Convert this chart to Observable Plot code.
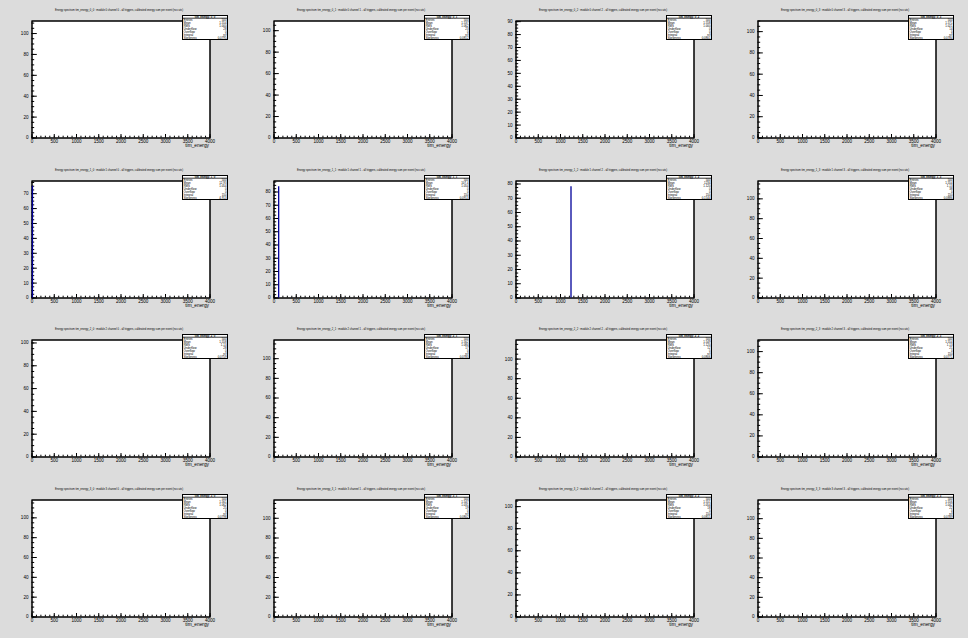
<!DOCTYPE html>
<html><head><meta charset="utf-8">
<script src="https://cdn.jsdelivr.net/npm/d3@7"></script>
<script src="https://cdn.jsdelivr.net/npm/@observablehq/plot@0.6"></script>
<style>
html,body{margin:0;padding:0;background:#dcdcdc;}
#canvas{position:relative;width:968px;height:638px;background:#dcdcdc;overflow:hidden;font-family:"Liberation Sans",Arial,sans-serif;}
.pad{position:absolute;width:242px;}
</style></head><body><div id="canvas"></div>
<script>
// ---- data ----
const xTitle = "tim_energy";
const xMajorTicks = [0, 500, 1000, 1500, 2000, 2500, 3000, 3500, 4000];
const xMinorStep = 100;
const panelNames = ["tim_energy_0_0","tim_energy_0_1","tim_energy_0_2","tim_energy_0_3",
  "tim_energy_1_0","tim_energy_1_1","tim_energy_1_2","tim_energy_1_3",
  "tim_energy_2_0","tim_energy_2_1","tim_energy_2_2","tim_energy_2_3",
  "tim_energy_3_0","tim_energy_3_1","tim_energy_3_2","tim_energy_3_3"];
const panelTitles = panelNames.map((n, i) =>
  `Energy spectrum ${n} : module ${Math.floor(i/4)} channel ${i%4} - all triggers, calibrated energy sum per event (no cuts)`);
const yAxisMax = [112, 109, 90.5, 110, 78.5, 88.3, 82.1, 118, 102.6, 119, 119.5, 111, 118, 118.5, 106, 119];
const yTickStep = [20, 20, 10, 20, 10, 10, 10, 20, 20, 20, 20, 20, 20, 20, 20, 20];
const peakEnergy = [null, null, null, null, 10, 105, 1236, null, null, null, null, null, null, null, null, null];
const peakCount  = [null, null, null, null, 75, 84, 78, null, null, null, null, null, null, null, null, null];
const statEntries  = ["500","500","500","500","500","500","500","500","500","500","500","500","500","500","500","500"];
const statMean     = ["1.554","1.537","1.558","1.571","12.93","107.4","1234","1.554","1.558","1.562","1.549","1.554","1.561","1.547","1.551","1.556"];
const statRMS      = ["1.000","1.062","1.000","1.021","1.054","1.054","1.120","1.13","1.13","1.084","1.120","1.13","1.062","1.031","1.054","1.042"];
const statUnder    = ["28","23","0","14","0","0","0","38","28","17","12","21","25","19","18","22"];
const statOver     = ["0","0","0","0","0","0","0","0","0","0","0","0","0","0","0","0"];
const statIntegral = ["n/f","n/f","n/f","n/f","150","150","150","150","n/f","n/f","n/f","150","n/f","n/f","150","n/f"];
const statSkew     = ["0.0795","0.0812","0.0801","0.0784","4.913","0.0913","0.1544","0.0886","0.0759","0.0783","0.0806","0.0771","0.0798","0.0802","0.0815","0.0789"];

// ---- layout ----
const W = 242, H = 159.5;
const mL = 31.5, mR = 32.5, mT = 20.5, mB = 22;
const fw = W - mL - mR, fh = H - mT - mB;
const canvas = document.getElementById("canvas");
const font = "Liberation Sans, Arial, sans-serif";

for (let i = 0; i < 16; i++) {
  const r = Math.floor(i / 4), c = i % 4;
  const ymax = yAxisMax[i], step = yTickStep[i];
  const yMajor = d3.range(0, ymax + 1e-9, step);
  const yMinor = d3.range(0, ymax + 1e-9, step / 4);
  const xMinor = d3.range(0, 4000 + 1e-9, xMinorStep);
  const xLenMaj = 3.5 * ymax / fh, xLenMin = 1.8 * ymax / fh;
  const yLenMaj = 5.3 * 4000 / fw, yLenMin = 2.7 * 4000 / fw;
  const peaks = peakCount[i] == null ? [] : [{energy: peakEnergy[i], count: peakCount[i]}];

  const plot = Plot.plot({
    width: W, height: H,
    marginLeft: mL, marginRight: mR, marginTop: mT, marginBottom: mB,
    style: {background: "transparent", overflow: "visible", fontFamily: font},
    x: {domain: [0, 4000], axis: null},
    y: {domain: [0, ymax], axis: null},
    marks: [
      Plot.frame({fill: "white", stroke: "black"}),
      Plot.ruleX(xMinor, {x: d => d, y1: () => 0, y2: () => xLenMin, stroke: "black"}),
      Plot.ruleX(xMajorTicks, {x: d => d, y1: () => 0, y2: () => xLenMaj, stroke: "black"}),
      Plot.ruleY(yMinor, {y: d => d, x1: () => 0, x2: () => yLenMin, stroke: "black"}),
      Plot.ruleY(yMajor, {y: d => d, x1: () => 0, x2: () => yLenMaj, stroke: "black"}),
      Plot.text(xMajorTicks, {x: d => d, y: () => 0, text: d => String(d), dy: 1.5, lineAnchor: "top", fontSize: 4.6, fill: "black"}),
      Plot.text(yMajor, {x: () => 0, y: d => d, text: d => String(d), dx: -3.5, textAnchor: "end", fontSize: 4.6, fill: "black"}),
      Plot.frame({stroke: "black"}),
      Plot.ruleX(peaks, {x: "energy", y1: () => 0, y2: "count", stroke: "#000099", strokeWidth: 1.3})
    ]
  });

  const svg = d3.select(plot);
  // histogram title
  svg.append("text").attr("x", 119).attr("y", 11).attr("text-anchor", "middle")
    .attr("font-size", 3.4).attr("font-family", font).attr("fill", "black")
    .attr("textLength", 128).attr("lengthAdjust", "spacingAndGlyphs").text(panelTitles[i]);
  // x-axis title
  svg.append("text").attr("x", W - mR - 0.5).attr("y", 146.5).attr("text-anchor", "end")
    .attr("font-size", 4.8).attr("font-family", font).attr("fill", "black").text(xTitle);
  // stat box
  const bx = 182.5, by = 15.5, bw = 45, bh = 24;
  const g = svg.append("g");
  g.append("rect").attr("x", bx).attr("y", by).attr("width", bw).attr("height", bh)
    .attr("fill", "white").attr("stroke", "black").attr("stroke-width", 1);
  g.append("line").attr("x1", bx).attr("x2", bx + bw).attr("y1", by + 2.7).attr("y2", by + 2.7)
    .attr("stroke", "black").attr("stroke-width", 0.8);
  g.append("text").attr("x", bx + bw / 2).attr("y", by + 2.3).attr("text-anchor", "middle")
    .attr("font-size", 2.7).attr("font-family", font).attr("font-weight", "bold").text(panelNames[i]);
  const labels = ["Entries", "Mean", "RMS", "Underflow", "Overflow", "Integral", "Skewness"];
  const vals = [statEntries[i], statMean[i], statRMS[i], statUnder[i], statOver[i], statIntegral[i], statSkew[i]];
  labels.forEach((lab, k) => {
    const yy = by + 5.4 + k * 2.95;
    g.append("text").attr("x", bx + 1).attr("y", yy).attr("text-anchor", "start")
      .attr("font-size", 2.9).attr("font-family", font).text(lab);
    g.append("text").attr("x", bx + bw - 1).attr("y", yy).attr("text-anchor", "end")
      .attr("font-size", 2.9).attr("font-family", font).text(vals[k]);
  });

  const div = document.createElement("div");
  div.className = "pad";
  div.style.left = (c * W) + "px";
  div.style.top = (r * H) + "px";
  div.appendChild(plot);
  canvas.appendChild(div);
}
</script></body></html>
